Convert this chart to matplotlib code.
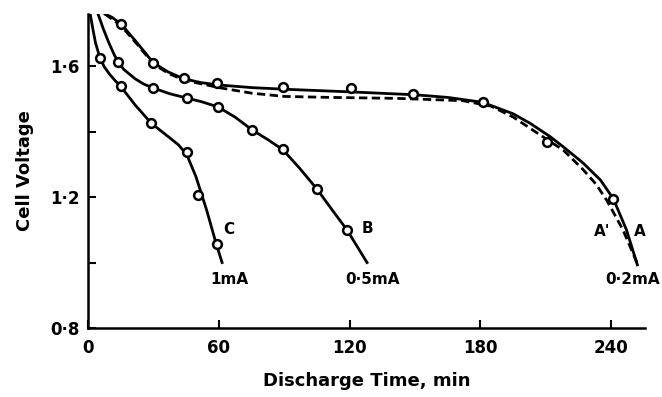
import matplotlib.pyplot as plt

# curve A (0.2 mA), solid
a_t = [7.8, 11, 15.1, 22.5, 29.8, 36.7, 44, 52, 60, 75, 90, 120, 150, 165, 181,
       195, 203, 212, 218, 227, 235, 241, 247, 252]
a_v = [1.76, 1.75, 1.73, 1.672, 1.612, 1.583, 1.562, 1.55, 1.543, 1.535, 1.53,
       1.522, 1.513, 1.505, 1.49, 1.455, 1.425, 1.385, 1.354, 1.305, 1.253,
       1.195, 1.10, 0.993]
# curve A' (dashed)
a2_t = [7.8, 15, 22.5, 30, 37, 44, 60, 75, 90, 111, 142, 172, 185, 195, 212,
        218, 227, 233, 238, 245.4, 251.8]
a2_v = [1.76, 1.725, 1.668, 1.607, 1.578, 1.558, 1.535, 1.518, 1.508, 1.505,
        1.502, 1.495, 1.478, 1.445, 1.37, 1.344, 1.285, 1.24, 1.19, 1.10, 1.0]
a_pts_t = [15.1, 29.8, 44, 59.2, 89.4, 120.6, 149, 181, 210.6, 240.8]
a_pts_v = [1.73, 1.61, 1.565, 1.549, 1.537, 1.534, 1.516, 1.491, 1.369, 1.195]

# curve B (0.5 mA)
b_t = [4.6, 7, 9.5, 12, 13.8, 16.5, 21.6, 25.5, 29.8, 37.6, 45.4, 52, 59.6,
       67.4, 75.2, 82, 89.4, 97, 105, 112, 118.8, 128]
b_v = [1.76, 1.715, 1.673, 1.636, 1.613, 1.59, 1.562, 1.546, 1.534, 1.516,
       1.503, 1.492, 1.476, 1.445, 1.406, 1.378, 1.345, 1.289, 1.225, 1.161,
       1.1, 1.0]
b_pts_t = [13.8, 29.8, 45.4, 59.6, 75.2, 89.4, 105, 118.8]
b_pts_v = [1.613, 1.534, 1.503, 1.476, 1.406, 1.347, 1.225, 1.1]

# curve C (1 mA)
c_t = [1, 2.2, 3.5, 5.5, 7.5, 10, 12.5, 15.1, 21.6, 28.9, 33, 37.2, 41.5,
       45.3, 49.5, 54.4, 58.7, 61.5]
c_v = [1.76, 1.715, 1.67, 1.626, 1.598, 1.575, 1.556, 1.538, 1.482, 1.427,
       1.405, 1.383, 1.36, 1.33, 1.263, 1.161, 1.06, 1.0]
c_pts_t = [5.5, 15.1, 28.9, 45.4, 50.5, 59.2]
c_pts_v = [1.626, 1.54, 1.427, 1.337, 1.206, 1.056]

x_ticks = [0, 60, 120, 180, 240]
x_labels = ['0', '60', '120', '180', '240']
y_ticks = [0.8, 1.0, 1.2, 1.4, 1.6]
y_labels = ['0·8', '', '1·2', '', '1·6']

plt.rcParams['font.family'] = 'DejaVu Sans'
plt.rcParams['font.weight'] = 'bold'

fig = plt.figure(figsize=(6.62, 3.97), dpi=100)
ax = fig.add_axes([88 / 662, 1 - 328 / 397, (645 - 88) / 662, (328 - 14) / 397])

lw = 2.0
ax.plot(a_t, a_v, color='black', lw=lw, solid_joinstyle='round')
ax.plot(a2_t, a2_v, color='black', lw=lw, dashes=(3, 1.6))
ax.plot(b_t, b_v, color='black', lw=lw, solid_joinstyle='round')
ax.plot(c_t, c_v, color='black', lw=lw, solid_joinstyle='round')

mk = dict(ls='none', marker='o', ms=6.3, mfc='white', mec='black', mew=1.8)
ax.plot(a_pts_t, a_pts_v, **mk)
ax.plot(b_pts_t, b_pts_v, **mk)
ax.plot(c_pts_t, c_pts_v, **mk)

# curve labels
fs = 11
ax.text(61.9, 1.10, 'C', fontsize=fs, fontweight='bold', va='center', ha='left')
ax.text(65, 0.947, '1mA', fontsize=fs, fontweight='bold', va='center', ha='center')
ax.text(125.3, 1.103, 'B', fontsize=fs, fontweight='bold', va='center', ha='left')
ax.text(130.7, 0.947, '0·5mA', fontsize=fs, fontweight='bold', va='center', ha='center')
ax.text(235.8, 1.094, "A'", fontsize=fs, fontweight='bold', va='center', ha='center')
ax.text(253, 1.094, 'A', fontsize=fs, fontweight='bold', va='center', ha='center')
ax.text(250, 0.947, '0·2mA', fontsize=fs, fontweight='bold', va='center',
        ha='center', clip_on=False)

ax.set_xlim(0, 255.5)
ax.set_ylim(0.8, 1.76)
ax.set_xticks(x_ticks)
ax.set_xticklabels(x_labels)
ax.set_yticks(y_ticks)
ax.set_yticklabels(y_labels)
ax.tick_params(direction='in', length=6, width=1.5, labelsize=12)
ax.tick_params(axis='x', pad=8)
ax.tick_params(axis='y', pad=6)

for s in ['top', 'right']:
    ax.spines[s].set_visible(False)
for s in ['left', 'bottom']:
    ax.spines[s].set_linewidth(1.8)

ax.set_xlabel('Discharge Time, min', fontsize=13, fontweight='bold', labelpad=11)
ax.set_ylabel('Cell Voltage', fontsize=13, fontweight='bold', labelpad=12)

plt.savefig('out.png', dpi=100)
plt.close()
